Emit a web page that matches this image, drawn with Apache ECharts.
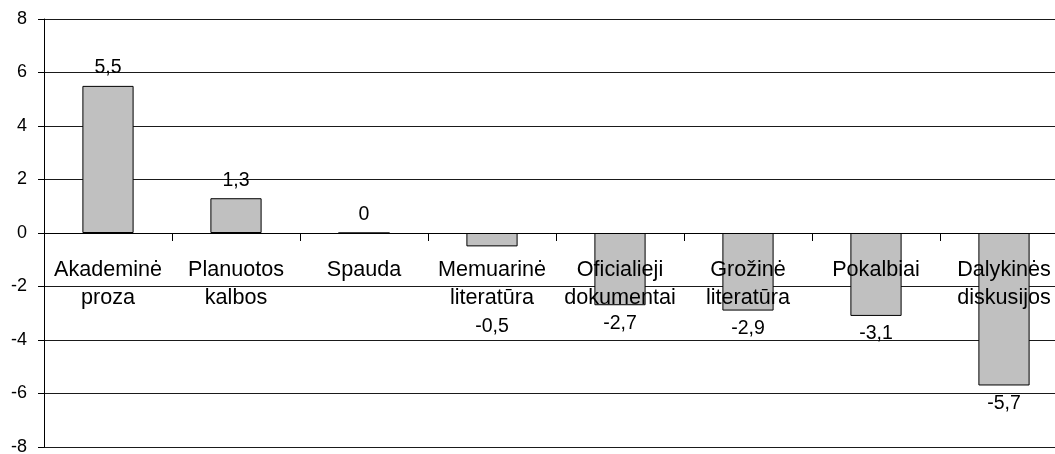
<!DOCTYPE html>
<html>
<head>
<meta charset="utf-8">
<style>
  html, body { margin: 0; padding: 0; background: #fff; }
  #chart { width: 1055px; height: 454px; }
</style>
<script src="https://cdn.jsdelivr.net/npm/echarts@6/dist/echarts.min.js"></script>
</head>
<body>
<div id="chart"></div>
<script>
// Text genres and their scores
const categories = [
  'Akademinė\nproza',
  'Planuotos\nkalbos',
  'Spauda',
  'Memuarinė\nliteratūra',
  'Oficialieji\ndokumentai',
  'Grožinė\nliteratūra',
  'Pokalbiai',
  'Dalykinės\ndiskusijos'
];
const values = [5.5, 1.3, 0, -0.5, -2.7, -2.9, -3.1, -5.7];
const yTicks = { min: -8, max: 8, interval: 2 };

const FONT = '"Liberation Sans", Arial, sans-serif';
const W = 1055, H = 454;
const GRID = { left: 44, right: -13, top: 19, bottom: 7 };
const plotH = H - GRID.top - GRID.bottom;

// The category axis sits on the value-zero line, labels included
const zeroOffset = -((0 - yTicks.min) / (yTicks.max - yTicks.min)) * plotH;

// Label placement: outside the bar end; small bars push their label below the category text
function labelFor(v) {
  const below = v < 0;
  const lbl = { position: below ? 'bottom' : 'top', distance: 8 };
  if (below && v > -1) lbl.distance = 70;
  return lbl;
}

const seriesData = values.map(v => ({ value: v, label: labelFor(v) }));

const chart = echarts.init(document.getElementById('chart'), null, { renderer: 'canvas' });
chart.setOption({
  animation: false,
  backgroundColor: '#ffffff',
  grid: Object.assign({ containLabel: false, outerBoundsMode: 'none' }, GRID),
  xAxis: {
    type: 'category',
    data: categories,
    z: 5,
    offset: zeroOffset,
    axisLine: { onZero: false, lineStyle: { color: '#000', width: 1 } },
    axisTick: { show: true, length: 8, inside: false, lineStyle: { color: '#000' } },
    axisLabel: {
      interval: 0,
      margin: 23,
      color: '#000',
      fontFamily: FONT,
      fontSize: 21.6,
      lineHeight: 28
    },
    splitLine: { show: false }
  },
  yAxis: {
    type: 'value',
    min: yTicks.min,
    max: yTicks.max,
    interval: yTicks.interval,
    axisLine: { show: true, lineStyle: { color: '#000', width: 1 } },
    axisTick: { show: true, length: 6, lineStyle: { color: '#000' } },
    axisLabel: {
      margin: 17,
      color: '#000',
      fontFamily: FONT,
      fontSize: 18
    },
    splitLine: { show: true, lineStyle: { color: '#1a1a1a', width: 1 } }
  },
  series: [{
    type: 'bar',
    data: seriesData,
    barWidth: '40%',
    z: 3,
    itemStyle: { color: '#c0c0c0', borderColor: '#000', borderWidth: 1 },
    label: {
      show: true,
      color: '#000',
      fontFamily: FONT,
      fontSize: 19.5,
      formatter: p => String(p.value).replace('.', ',')
    }
  }]
});
</script>
</body>
</html>
